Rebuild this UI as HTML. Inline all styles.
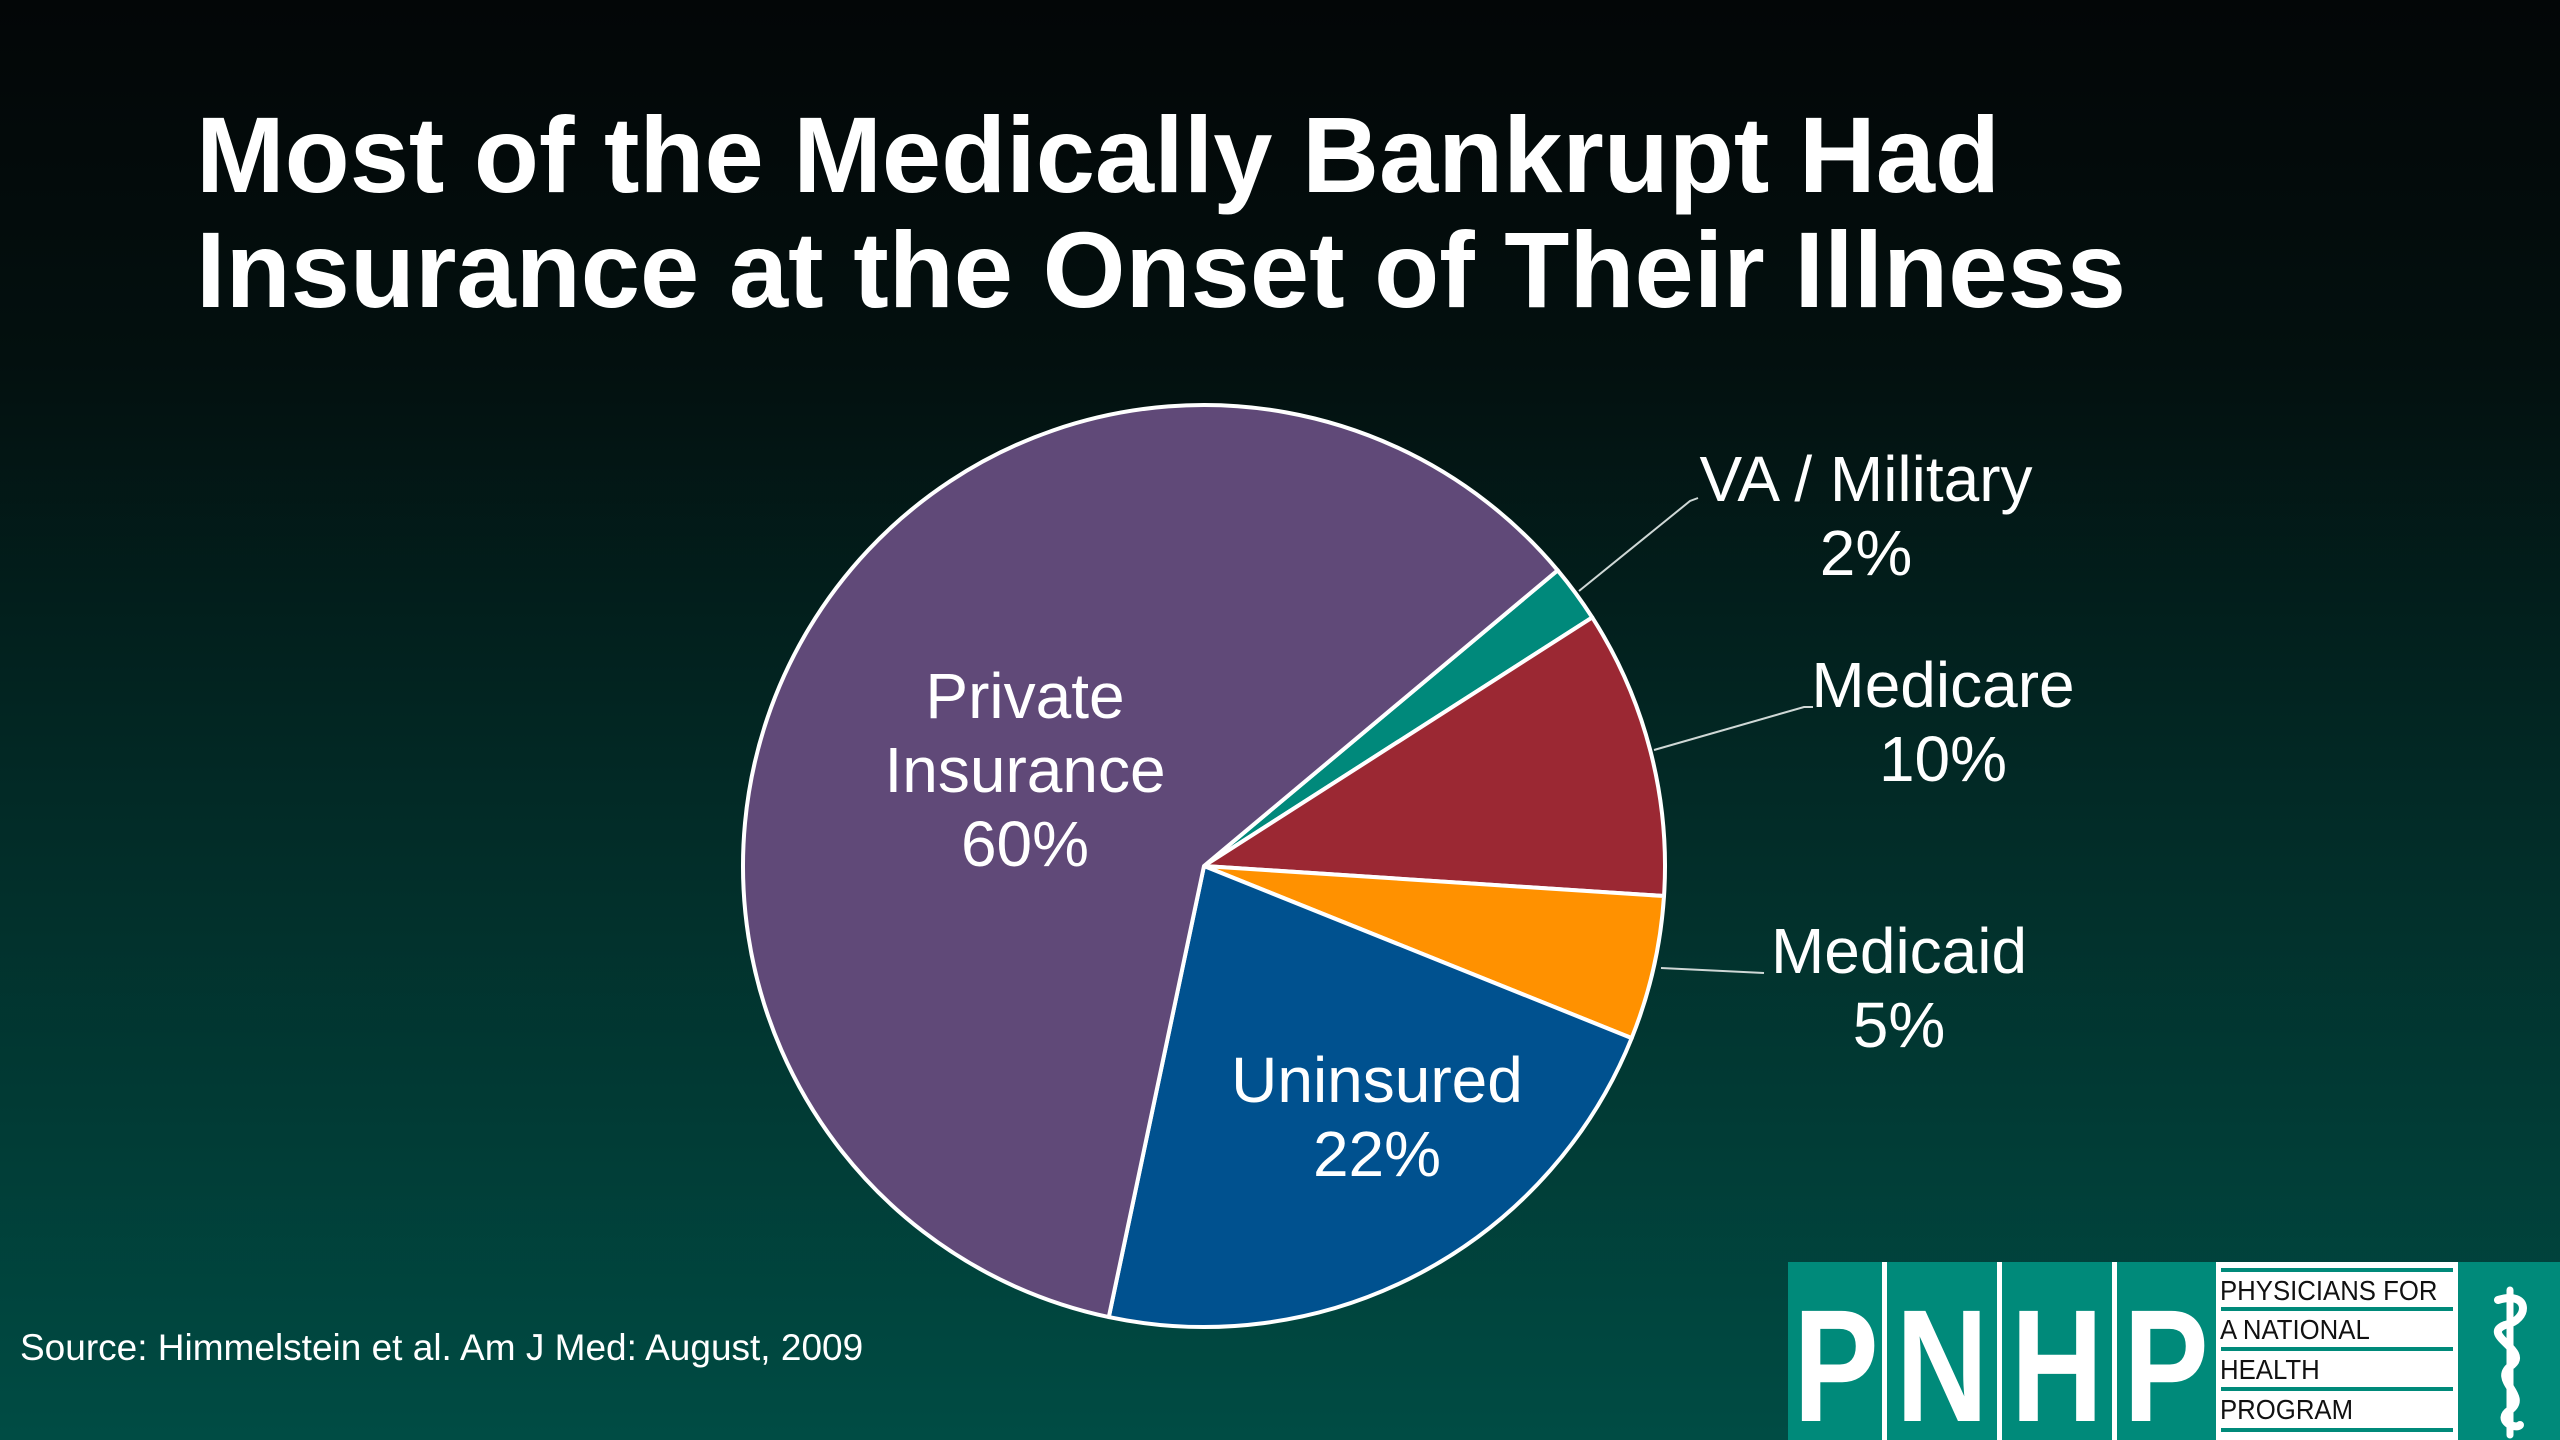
<!DOCTYPE html>
<html><head><meta charset="utf-8"><style>
html,body{margin:0;padding:0;width:2560px;height:1440px;overflow:hidden}
body{background:linear-gradient(to bottom,#030607 0%,#03100f 25%,#022a26 55%,#004c44 100%);font-family:"Liberation Sans",Arial,sans-serif;position:relative}
svg{position:absolute;left:0;top:0}
</style></head><body>
<svg width="2560" height="1440" viewBox="0 0 2560 1440">
  <text x="196" y="192" font-size="108" font-weight="bold" fill="#fff" textLength="1804" lengthAdjust="spacingAndGlyphs">Most of the Medically Bankrupt Had</text>
  <text x="196" y="307" font-size="108" font-weight="bold" fill="#fff" textLength="1930" lengthAdjust="spacingAndGlyphs">Insurance at the Onset of Their Illness</text>
  <g id="pie"></g>
  <g font-size="64" fill="#fff" text-anchor="middle">
    <text x="1025" y="718">Private</text>
    <text x="1025" y="792">Insurance</text>
    <text x="1025" y="866">60%</text>
    <text x="1377" y="1102">Uninsured</text>
    <text x="1377" y="1176">22%</text>
    <text x="1866" y="501">VA / Military</text>
    <text x="1866" y="575">2%</text>
    <text x="1943" y="707">Medicare</text>
    <text x="1943" y="781">10%</text>
    <text x="1899" y="973">Medicaid</text>
    <text x="1899" y="1047">5%</text>
  </g>
  <g stroke="#cfd8d6" stroke-width="2" fill="none">
    <polyline points="1579,591 1690,501 1698,498"/>
    <polyline points="1654,750 1804,707 1813,707"/>
    <polyline points="1661,968 1764,973"/>
  </g>
  <text x="20" y="1360" font-size="37" fill="#fff">Source: Himmelstein et al. Am J Med: August, 2009</text>
  <g>
    <rect x="1788" y="1262" width="772" height="178" fill="#008a7a"/>
    <rect x="1882" y="1262" width="5" height="178" fill="#fff"/>
    <rect x="1997" y="1262" width="5" height="178" fill="#fff"/>
    <rect x="2112" y="1262" width="5" height="178" fill="#fff"/>
    <g font-size="160" font-weight="bold" fill="#fff" text-anchor="middle">
      <text transform="translate(1836,1421) scale(0.8,1)">P</text>
      <text transform="translate(1942,1421) scale(0.8,1)">N</text>
      <text transform="translate(2057,1421) scale(0.8,1)">H</text>
      <text transform="translate(2166,1421) scale(0.8,1)">P</text>
    </g>
    <rect x="2216" y="1262" width="242" height="178" fill="#fff"/>
    <g fill="#008a7a">
      <rect x="2221" y="1268" width="232" height="4"/><rect x="2221" y="1307" width="232" height="4"/>
      <rect x="2221" y="1347" width="232" height="4"/><rect x="2221" y="1387" width="232" height="4"/><rect x="2221" y="1428" width="232" height="4"/>
    </g>
    <g font-size="28" fill="#111" transform="translate(2220,0) scale(0.92,1)">
      <text x="0" y="1300">PHYSICIANS FOR</text>
      <text x="0" y="1339">A NATIONAL</text>
      <text x="0" y="1379">HEALTH</text>
      <text x="0" y="1419">PROGRAM</text>
    </g>
    <g stroke="#fff" fill="none" stroke-linecap="round">
      <line x1="2510" y1="1290" x2="2510" y2="1435" stroke-width="7"/>
      <path d="M2498,1300 C2530,1290 2530,1320 2505,1325 C2480,1335 2530,1350 2512,1365 C2490,1380 2530,1395 2510,1410 C2495,1420 2515,1430 2520,1425" stroke-width="8"/>
    </g>
  </g>
</svg>
<script>
const categories = ["VA / Military","Medicare","Medicaid","Uninsured","Private Insurance"];
const values = [2,10,5,22,60];
const colors = ["#00897b","#9b2833","#ff9100","#00518f","#604978"];
const cx = 1204, cy = 866, r = 461, startDeg = -39.9;
const total = values.reduce((a,b)=>a+b,0);
const g = document.getElementById('pie');
const NS = "http://www.w3.org/2000/svg";
function pt(deg){const a=deg*Math.PI/180;return [cx+r*Math.cos(a), cy+r*Math.sin(a)];}
let ang = startDeg;
values.forEach((v,i)=>{
  const sweep = v/total*360;
  const p0 = pt(ang), p1 = pt(ang+sweep);
  const large = sweep>180?1:0;
  const path = document.createElementNS(NS,'path');
  path.setAttribute('d',`M${cx},${cy} L${p0[0]},${p0[1]} A${r},${r} 0 ${large} 1 ${p1[0]},${p1[1]} Z`);
  path.setAttribute('fill',colors[i]);
  path.setAttribute('stroke','#fff');
  path.setAttribute('stroke-width','4');
  path.setAttribute('stroke-linejoin','round');
  
  
  g.appendChild(path);
  ang += sweep;
});
</script>
</body></html>
